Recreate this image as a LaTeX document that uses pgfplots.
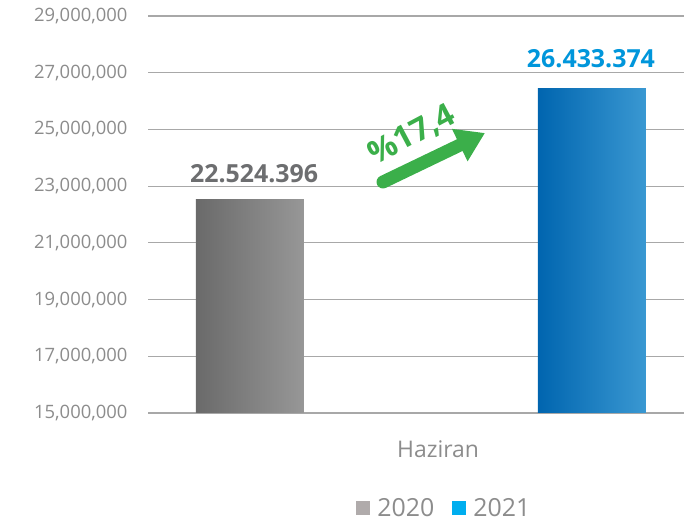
\documentclass[border=0pt]{standalone}
\usepackage{fontspec}
\setmainfont{Open Sans}
\usepackage{pgfplots}
\pgfplotsset{compat=1.18}
\usetikzlibrary{arrows.meta}
\definecolor{gridgray}{HTML}{A8A8A8}
\definecolor{tickgray}{HTML}{8C8C8C}
\definecolor{lab2020}{HTML}{6D6E70}
\definecolor{lab2021}{HTML}{0096DB}
\definecolor{gA}{HTML}{6A6A6A}
\definecolor{gB}{HTML}{979797}
\definecolor{bA}{HTML}{0065AF}
\definecolor{bB}{HTML}{3A98D2}
\definecolor{leg2020}{HTML}{B0ABAB}
\definecolor{leg2021}{HTML}{00AEEF}
\definecolor{arrowgreen}{HTML}{3BAF4A}
\begin{document}
\begin{tikzpicture}
\useasboundingbox (0bp,0bp) rectangle (684bp,522bp);
\begin{axis}[
  at={(148bp,109bp)}, anchor=south west,
  scale only axis, width=536bp, height=397bp,
  xmin=-0.298, xmax=1.269, ymin=15000000, ymax=29000000,
  ytick={15000000,17000000,19000000,21000000,23000000,25000000,27000000,29000000},
  xtick={0.55}, xticklabels={Haziran},
  scaled y ticks=false,
  yticklabel style={/pgf/number format/fixed, /pgf/number format/precision=0, /pgf/number format/1000 sep={,}, /pgf/number format/assume math mode=true},
  yticklabel style={font=\fontsize{18.5}{21}\selectfont, text=tickgray, xshift=-17bp},
  xticklabel style={font=\fontsize{23}{26}\selectfont, text=tickgray, yshift=-24bp},
  axis line style={draw=none},
  major tick length=0pt,
  ymajorgrids, major grid style={gridgray, line width=1.2bp},
  clip=false,
  legend style={at={(0.553,-0.239)}, anchor=center, draw=none, fill=none,
    font=\fontsize{25}{28}\selectfont, text=tickgray, legend columns=2,
    /tikz/every odd column/.append style={column sep=5bp},
    /tikz/every even column/.append style={column sep=16bp}},
]
\addplot[ybar, bar width=108bp, bar shift=0pt, draw=none, left color=gA, right color=gB,
  legend image code/.code={\pgfsetfillcolor{leg2020}\pgfpathrectangle{\pgfpoint{0bp}{-7bp}}{\pgfpoint{14bp}{14bp}}\pgfusepath{fill}}]
  coordinates {(0,22524396)};
\addlegendentry{2020}
\addplot[ybar, bar width=108bp, bar shift=0pt, draw=none, left color=bA, right color=bB,
  legend image code/.code={\pgfsetfillcolor{leg2021}\pgfpathrectangle{\pgfpoint{0bp}{-7bp}}{\pgfpoint{14bp}{14bp}}\pgfusepath{fill}}]
  coordinates {(1,26433374)};
\addlegendentry{2021}
\node[font=\bfseries\fontsize{25}{28}\selectfont, text=lab2020, inner sep=0pt] at (axis cs:0.012,23430000) {22.524.396};
\node[font=\bfseries\fontsize{25}{28}\selectfont, text=lab2021, fill=white, inner xsep=8bp, inner ysep=3bp] at (axis cs:0.997,27500000) {26.433.374};
\end{axis}
\draw[line width=13bp, arrowgreen, line cap=round, -{Triangle[length=28bp,width=34bp]}] (383bp,340bp) -- (485bp,389bp);
\node[rotate=28, font=\bfseries\fontsize{32}{36}\selectfont, text=arrowgreen, inner sep=0pt] at (412bp,387bp) {\%17,4};
\end{tikzpicture}
\end{document}
